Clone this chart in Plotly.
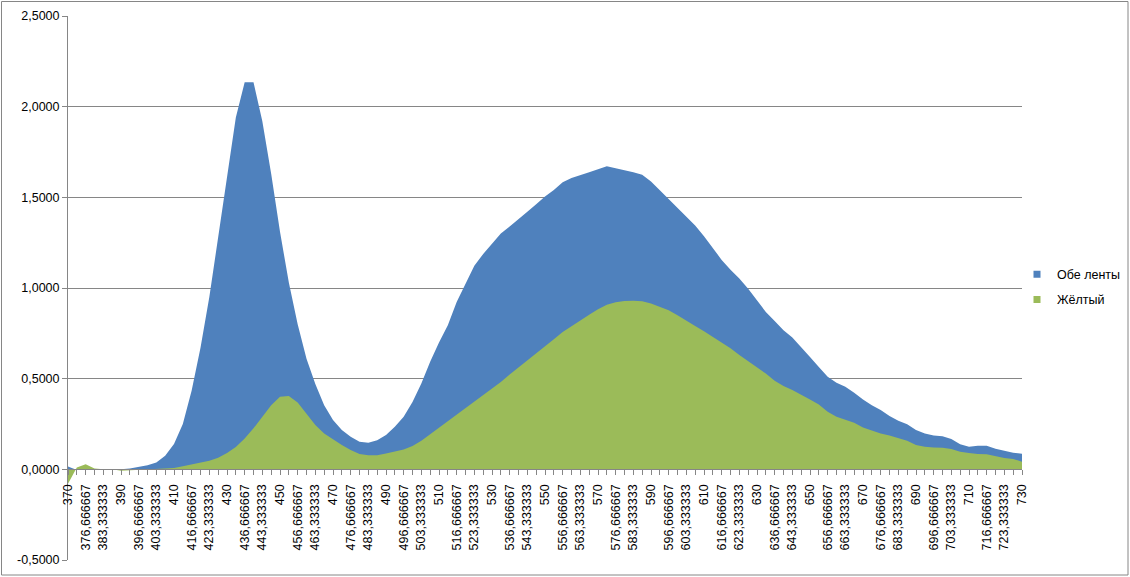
import plotly.graph_objects as go

categories = [
    "370", "373,333333", "376,666667", "380", "383,333333", "386,666667",
    "390", "393,333333", "396,666667", "400", "403,333333", "406,666667",
    "410", "413,333333", "416,666667", "420", "423,333333", "426,666667",
    "430", "433,333333", "436,666667", "440", "443,333333", "446,666667",
    "450", "453,333333", "456,666667", "460", "463,333333", "466,666667",
    "470", "473,333333", "476,666667", "480", "483,333333", "486,666667",
    "490", "493,333333", "496,666667", "500", "503,333333", "506,666667",
    "510", "513,333333", "516,666667", "520", "523,333333", "526,666667",
    "530", "533,333333", "536,666667", "540", "543,333333", "546,666667",
    "550", "553,333333", "556,666667", "560", "563,333333", "566,666667",
    "570", "573,333333", "576,666667", "580", "583,333333", "586,666667",
    "590", "593,333333", "596,666667", "600", "603,333333", "606,666667",
    "610", "613,333333", "616,666667", "620", "623,333333", "626,666667",
    "630", "633,333333", "636,666667", "640", "643,333333", "646,666667",
    "650", "653,333333", "656,666667", "660", "663,333333", "666,666667",
    "670", "673,333333", "676,666667", "680", "683,333333", "686,666667",
    "690", "693,333333", "696,666667", "700", "703,333333", "706,666667",
    "710", "713,333333", "716,666667", "720", "723,333333", "726,666667",
    "730",
]

obe_lenty = [
    0.015, -0.004, 0.0, 0.0, 0.0, 0.0, 0.0, 0.005, 0.012, 0.022,
    0.038, 0.075, 0.14, 0.25, 0.435, 0.67, 0.95, 1.28, 1.61, 1.94,
    2.135, 2.135, 1.92, 1.63, 1.31, 1.03, 0.80, 0.61, 0.47, 0.354,
    0.272, 0.217, 0.18, 0.152, 0.147, 0.161, 0.189, 0.235, 0.29, 0.372,
    0.473, 0.593, 0.70, 0.794, 0.923, 1.024, 1.123, 1.187, 1.246, 1.30,
    1.339, 1.378, 1.42, 1.462, 1.505, 1.541, 1.583, 1.606, 1.624, 1.639,
    1.655, 1.672, 1.661, 1.651, 1.639, 1.624, 1.587, 1.539, 1.49, 1.442,
    1.393, 1.345, 1.285, 1.218, 1.155, 1.10, 1.052, 0.996, 0.932, 0.868,
    0.818, 0.767, 0.727, 0.675, 0.62, 0.565, 0.51, 0.477, 0.455, 0.422,
    0.385, 0.354, 0.327, 0.294, 0.268, 0.248, 0.217, 0.198, 0.187, 0.183,
    0.167, 0.139, 0.125, 0.13, 0.13, 0.114, 0.103, 0.092, 0.086,
]

zheltyi = [
    -0.08, 0.01, 0.028, 0.005, 0.0, 0.0, -0.008, -0.006, 0.0, 0.0,
    0.0, 0.002, 0.008, 0.017, 0.027, 0.037, 0.048, 0.064, 0.09, 0.123,
    0.17, 0.226, 0.29, 0.354, 0.40, 0.404, 0.369, 0.308, 0.244, 0.198,
    0.165, 0.134, 0.106, 0.084, 0.077, 0.077, 0.088, 0.097, 0.11, 0.128,
    0.158, 0.193, 0.229, 0.262, 0.299, 0.336, 0.372, 0.409, 0.446, 0.482,
    0.523, 0.561, 0.602, 0.64, 0.679, 0.717, 0.758, 0.791, 0.822, 0.853,
    0.883, 0.908, 0.921, 0.928, 0.930, 0.927, 0.914, 0.895, 0.877, 0.85,
    0.822, 0.791, 0.761, 0.73, 0.699, 0.668, 0.631, 0.598, 0.565, 0.528,
    0.488, 0.459, 0.437, 0.413, 0.385, 0.358, 0.317, 0.29, 0.275, 0.257,
    0.231, 0.213, 0.198, 0.187, 0.171, 0.158, 0.134, 0.125, 0.121, 0.119,
    0.112, 0.097, 0.09, 0.084, 0.083, 0.073, 0.062, 0.057, 0.042,
]

y_ticks = [-0.5, 0.0, 0.5, 1.0, 1.5, 2.0, 2.5]
y_tick_labels = ["-0,5000", "0,0000", "0,5000", "1,0000", "1,5000", "2,0000", "2,5000"]

x_tick_labels = [c if i % 2 == 0 else "" for i, c in enumerate(categories)]

BLUE = "#4F81BD"
GREEN = "#9BBB59"
GRID = "#868686"
FONT = dict(family="Liberation Sans, Arial, sans-serif", size=12.5, color="black")

fig = go.Figure()
fig.add_trace(go.Scatter(
    x=categories, y=obe_lenty, mode="lines", line=dict(width=0, color=BLUE),
    fill="tozeroy", fillcolor=BLUE, showlegend=False, hoverinfo="skip"))
fig.add_trace(go.Scatter(
    x=categories, y=zheltyi, mode="lines", line=dict(width=0, color=GREEN),
    fill="tozeroy", fillcolor=GREEN, showlegend=False, hoverinfo="skip"))
fig.add_trace(go.Scatter(
    x=[None], y=[None], mode="markers", name="Обе ленты", legendgroup="a",
    marker=dict(symbol="square", size=7, color=BLUE)))
fig.add_trace(go.Scatter(
    x=[None], y=[None], mode="markers", name="Жёлтый", legendgroup="b",
    marker=dict(symbol="square", size=7, color=GREEN)))

# plot area in pixels: left 68, right 1022, top 16, bottom 560
L, R, T, B = 68, 1022, 16, 560
W, H = R - L, B - T

fig.update_layout(
    width=1130, height=577,
    margin=dict(l=L, r=1130 - R, t=T, b=577 - B, pad=0, autoexpand=False),
    paper_bgcolor="white", plot_bgcolor="white",
    font=FONT,
    xaxis=dict(
        type="category", range=[0, len(categories) - 1],
        anchor="free", position=0.5 / 3.0, automargin=False,
        showline=True, linecolor=GRID, linewidth=1,
        ticks="outside", ticklen=5, tickcolor=GRID, tickwidth=1,
        tickmode="array", tickvals=categories, ticktext=x_tick_labels,
        tickangle=-90, tickfont=FONT, showgrid=False, zeroline=False,
        ticklabelstandoff=4,
    ),
    yaxis=dict(
        range=[-0.5, 2.5], tickmode="array", tickvals=y_ticks, ticktext=y_tick_labels,
        automargin=False,
        showgrid=True, gridcolor=GRID, gridwidth=1,
        showline=True, linecolor=GRID, linewidth=1,
        ticks="outside", ticklen=5, tickcolor=GRID, zeroline=False,
        tickfont=FONT,
    ),
    legend=dict(
        x=(1017 - L) / W, xanchor="left", y=(B - 287) / H, yanchor="middle",
        font=FONT, tracegroupgap=6, bgcolor="rgba(0,0,0,0)",
        itemwidth=30,
    ),
    shapes=[dict(
        type="rect", xref="paper", yref="paper",
        x0=(1.5 - L) / W, x1=(1128 - L) / W,
        y0=(B - 575) / H, y1=(B - 1.5) / H,
        line=dict(color=GRID, width=1), fillcolor="rgba(0,0,0,0)", layer="below",
    )],
)

fig.write_html("out.html")
